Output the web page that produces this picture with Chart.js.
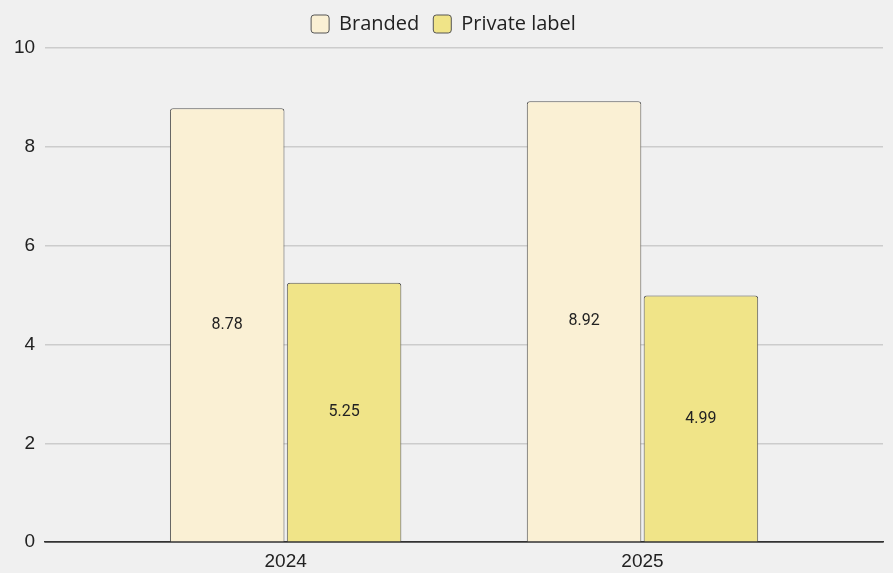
<!DOCTYPE html>
<html>
<head>
<meta charset="utf-8">
<script src="https://cdn.jsdelivr.net/npm/chart.js@4.4.1/dist/chart.umd.min.js"></script>
<style>
  html, body { margin: 0; padding: 0; background: #f0f0f0; }
  #wrap { width: 893px; height: 573px; position: relative; }
</style>
</head>
<body>
<div id="wrap"><canvas id="chart"></canvas></div>
<script>
const years = [2024, 2025];
const branded = [8.78, 8.92];
const privateLabel = [5.25, 4.99];
const yTicks = [0, 2, 4, 6, 8, 10];

// value text in the middle of each bar
const barValues = {
  id: 'barValues',
  afterDatasetsDraw(chart) {
    const ctx = chart.ctx;
    ctx.save();
    ctx.font = '16px Roboto, "Liberation Sans", sans-serif';
    ctx.fillStyle = '#222';
    ctx.textAlign = 'center';
    ctx.textBaseline = 'middle';
    chart.data.datasets.forEach((ds, i) => {
      chart.getDatasetMeta(i).data.forEach((bar, j) => {
        const mid = (bar.y + bar.base) / 2;
        ctx.fillText(ds.data[j].y.toFixed(2), bar.x, mid);
      });
    });
    ctx.restore();
  }
};

// a bit more room under the legend
const legendGap = {
  id: 'legendGap',
  beforeInit(chart) {
    const fit = chart.legend.fit;
    chart.legend.fit = function () {
      fit.bind(chart.legend)();
      this.height += 4;
    };
  }
};

const toPoints = vals => vals.map((v, i) => ({ x: years[i], y: v }));

new Chart(document.getElementById('chart'), {
  type: 'bar',
  data: {
    datasets: [
      {
        label: 'Branded',
        data: toPoints(branded),
        backgroundColor: '#faf0d4',
        borderColor: '#555',
        borderWidth: 1,
        borderRadius: { topLeft: 3, topRight: 3 },
        borderSkipped: 'bottom'
      },
      {
        label: 'Private label',
        data: toPoints(privateLabel),
        backgroundColor: '#f0e488',
        borderColor: '#555',
        borderWidth: 1,
        borderRadius: { topLeft: 3, topRight: 3 },
        borderSkipped: 'bottom'
      }
    ]
  },
  options: {
    responsive: true,
    maintainAspectRatio: false,
    animation: false,
    layout: { padding: { left: 4, right: 10, top: 0, bottom: 0 } },
    datasets: {
      bar: { barPercentage: 0.98, categoryPercentage: 0.655 }
    },
    plugins: {
      legend: {
        position: 'top',
        labels: {
          boxWidth: 18,
          boxHeight: 18,
          useBorderRadius: true,
          borderRadius: 3,
          padding: 14,
          color: '#222',
          font: { size: 20, family: '"Open Sans", "Noto Sans", sans-serif' }
        }
      },
      tooltip: { enabled: false }
    },
    scales: {
      x: {
        type: 'linear',
        offset: false,
        min: 2023.326,
        max: 2025.674,
        afterBuildTicks(axis) {
          axis.ticks = years.map(v => ({ value: v }));
        },
        ticks: {
          callback: v => String(v),
          color: '#222',
          padding: 0,
          font: { size: 19, family: '"Liberation Sans Narrow", "Arial Narrow", "Liberation Sans", sans-serif' }
        },
        grid: { display: false },
        border: { display: true, color: '#333', width: 1.5 }
      },
      y: {
        min: 0,
        max: 10,
        afterBuildTicks(axis) {
          axis.ticks = yTicks.map(v => ({ value: v }));
        },
        ticks: {
          color: '#222',
          padding: 10,
          font: { size: 19, family: '"Liberation Sans Narrow", "Arial Narrow", "Liberation Sans", sans-serif' }
        },
        grid: {
          color: ctx => ctx.tick.value === 0 ? '#333' : '#cccccc',
          lineWidth: 1.5,
          drawTicks: false
        },
        border: { display: false }
      }
    }
  },
  plugins: [barValues, legendGap]
});
</script>
</body>
</html>
